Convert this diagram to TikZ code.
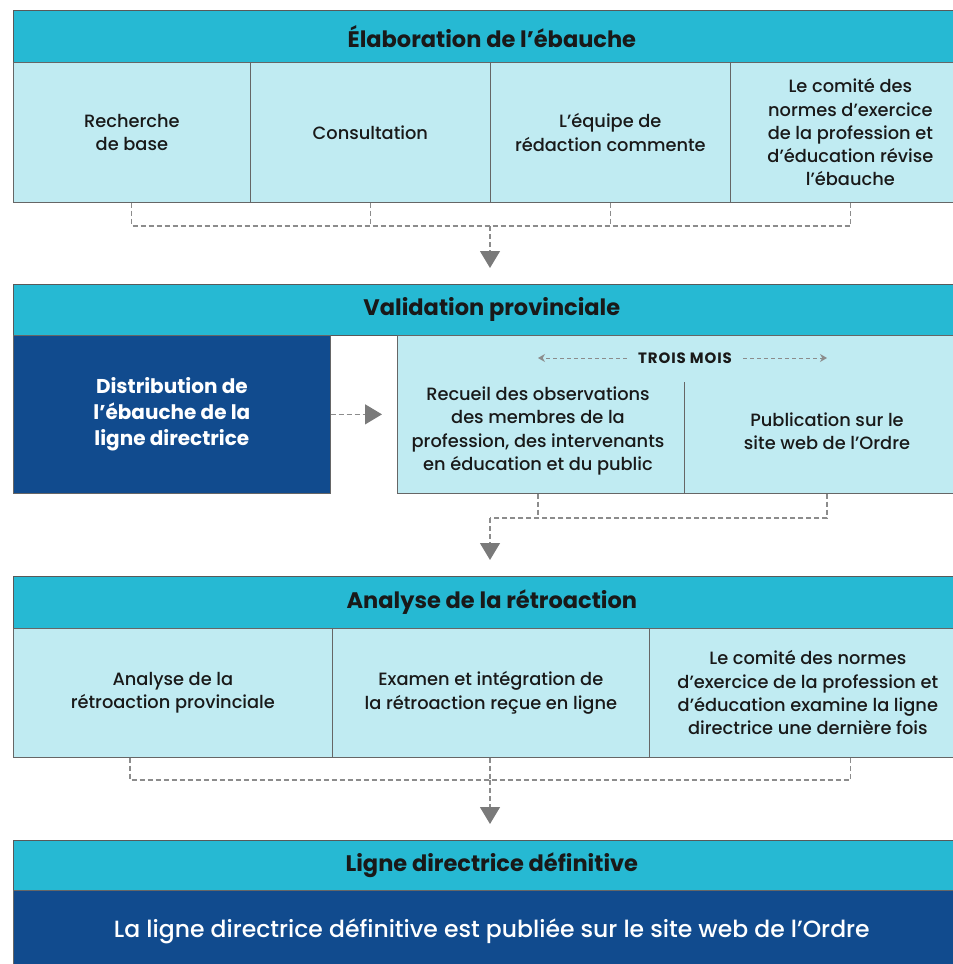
\documentclass[tikz,border=0pt]{standalone}
\usepackage{fontspec}
\setmainfont{Poppins}[UprightFont=* Medium, BoldFont=* Bold]
\usepackage{tikz}
\usetikzlibrary{positioning, arrows.meta}

\definecolor{headteal}{HTML}{26B9D3}
\definecolor{paleteal}{HTML}{C0EBF2}
\definecolor{deepblue}{HTML}{114B8E}
\definecolor{linkgray}{HTML}{8C8C8C}
\definecolor{tipgray}{HTML}{7A7A7A}

\begin{document}
\begin{tikzpicture}[x=1pt, y=-1pt,
  every node/.style = {align=center, inner sep=0pt, text=black!90},
  headbar/.style = {draw=black!65, fill=headteal, line width=0.7pt, anchor=north west,
    minimum width=957pt, font=\fontsize{22.5}{26}\selectfont\bfseries},
  cell/.style = {draw=black!60, fill=paleteal, line width=0.7pt, anchor=north west,
    font=\fontsize{17.8}{23.3}\selectfont},
  darkcell/.style = {draw=black!60, fill=deepblue, text=white, line width=0.7pt, anchor=north west},
  link/.style = {draw=linkgray, line width=1.2pt, dash pattern=on 5pt off 3pt},
  flowarrow/.style = {link, -{Triangle[width=20pt, length=17pt, fill=tipgray, color=tipgray, sep=0pt]}},
  spanlink/.style = {draw=linkgray, line width=0.9pt, dash pattern=on 4pt off 3pt,
    -{Stealth[width=8pt, length=7pt]}}
  ]
 \clip (0,0) rectangle (953,964);

 % Elaboration de l'ebauche
 \node[headbar, minimum height=52pt] (head1) at (13,10) {Élaboration de l’ébauche};
 \node[cell, minimum width=237pt, minimum height=140pt] (b11) at (13,62) {Recherche\\de base};
 \node[cell, minimum width=240pt, minimum height=140pt] (b12) at (250,62) {Consultation};
 \node[cell, minimum width=240pt, minimum height=140pt] (b13) at (490,62) {L’équipe de\\rédaction commente};
 \node[cell, minimum width=240pt, minimum height=140pt] (b14) at (730,62)
   {Le comité des\\normes d’exercice\\de la profession et\\d’éducation révise\\l’ébauche};

 \coordinate (join1) at (490,226);
 \draw[link] (b11.south) |- (b14.south |- join1) -- (b14.south);
 \draw[link] (b12.south) -- (b12.south |- join1);
 \draw[link] (b13.south) -- (b13.south |- join1);

 % Validation provinciale
 \node[headbar, minimum height=51pt] (head2) at (13,284) {Validation provinciale};
 \draw[flowarrow, shorten >=16pt] (join1) -- (join1 |- head2.north);

 \node[darkcell, minimum width=317pt, minimum height=158pt,
   font=\fontsize{20}{26}\selectfont\bfseries] (distr) at (13,335)
   {Distribution de\\l’ébauche de la\\ligne directrice};
 \node[cell, minimum width=573pt, minimum height=158pt] (obs) at (397,335) {};
 \coordinate (divtop) at (684,382);
 \draw[draw=black!60, line width=0.7pt] (divtop) -- (divtop |- obs.south);
 \node[font=\fontsize{17.8}{23.3}\selectfont] (recueil) at (538,431)
   {Recueil des observations\\des membres de la\\profession, des intervenants\\en éducation et du public};
 \node[font=\fontsize{17.8}{23.3}\selectfont] (pub) at (827,431)
   {Publication sur le\\site web de l’Ordre};
 \node[inner xsep=11pt, font=\fontsize{15}{17}\selectfont\bfseries\addfontfeature{LetterSpace=6}] (trois) at (685,358) {TROIS MOIS};
 \draw[spanlink] (trois.west) -- (trois -| recueil);
 \draw[spanlink] (trois.east) -- (trois -| pub);
 \draw[flowarrow, shorten >=15pt] (distr.east) -- (obs.west |- distr.east);

 \coordinate (join2) at (490,518);
 \draw[link] (obs.south -| pub) |- (join2);
 \draw[link] (obs.south -| recueil) -- (recueil |- join2);

 % Analyse de la retroaction
 \node[headbar, minimum height=52pt] (head3) at (13,576) {Analyse de la rétroaction};
 \draw[flowarrow, shorten >=16pt] (join2) -- (join2 |- head3.north);

 \node[cell, minimum width=319pt, minimum height=129pt] (b31) at (13,628)
   {Analyse de la\\rétroaction provinciale};
 \node[cell, minimum width=317pt, minimum height=129pt] (b32) at (332,628)
   {Examen et intégration de\\la rétroaction reçue en ligne};
 \node[cell, minimum width=317pt, minimum height=129pt] (b33) at (649,628)
   {Le comité des normes\\d’exercice de la profession et\\d’éducation examine la ligne\\directrice une dernière fois};

 \coordinate (join3) at (490,780);
 \draw[link] ([xshift=117pt]b31.south west) |- ([xshift=-116pt]b33.south east |- join3)
   -- ([xshift=-116pt]b33.south east);
 \draw[link] (b32.south -| join3) -- (join3);

 % Ligne directrice definitive
 \node[headbar, minimum height=50pt] (head4) at (13,840) {Ligne directrice définitive};
 \draw[flowarrow, shorten >=16pt] (join3) -- (join3 |- head4.north);
 \node[darkcell, minimum width=957pt, minimum height=82pt,
   font=\fontsize{23.5}{27}\selectfont] (final) at (13,890)
   {La ligne directrice définitive est publiée sur le site web de l’Ordre};
\end{tikzpicture}
\end{document}
